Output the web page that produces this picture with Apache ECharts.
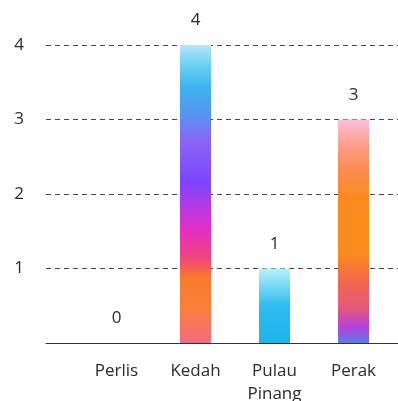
<!DOCTYPE html>
<html>
<head>
<meta charset="utf-8">
<script src="https://cdn.jsdelivr.net/npm/echarts@6/dist/echarts.min.js"></script>
<style>
  html, body { margin: 0; padding: 0; background: #fff; }
  #chart { width: 398px; height: 401px; }
</style>
</head>
<body>
<div id="chart"></div>
<script>
const states = ['Perlis', 'Kedah', 'Pulau\nPinang', 'Perak']
const counts = [0, 4, 1, 3]
const yTicks = [0, 1, 2, 3, 4]

// watercolor-ish vertical gradients, one per bar
const barStops = [
  [['0', '#f06070'], ['1', '#f06070']],
  [
    [0, '#b8e4fa'], [0.06, '#72d4f2'], [0.14, '#3cb4ee'], [0.24, '#5a92f2'],
    [0.32, '#8a66f6'], [0.46, '#7d44fb'], [0.54, '#b43ae6'], [0.62, '#e22ec4'],
    [0.72, '#f0487a'], [0.78, '#fb7a2c'], [0.88, '#fb7f3a'], [1, '#f56a80']
  ],
  [[0, '#b6f4fb'], [0.25, '#74d6f4'], [0.5, '#30bcee'], [1, '#1cb4ec']],
  [
    [0, '#fbc0dc'], [0.1, '#fba292'], [0.22, '#fa8c52'], [0.35, '#fb8a1e'],
    [0.6, '#fb8a1c'], [0.72, '#f4684c'], [0.84, '#e45a78'], [0.93, '#b640dc'], [1, '#5c7ce6']
  ]
]

const chart = echarts.init(document.getElementById('chart'))

const option = {
  animation: false,
  textStyle: { fontFamily: '"Open Sans", Lato, sans-serif' },
  grid: [
    { left: 46, right: 0, top: 45, bottom: 58, outerBoundsMode: 'none', containLabel: false },
    { left: 77, right: 5, top: 45, bottom: 58, outerBoundsMode: 'none', containLabel: false }
  ],
  xAxis: [
    {
      type: 'value', gridIndex: 0, min: 0, max: 1,
      axisLine: { show: true, onZero: false, lineStyle: { color: '#333', width: 1 } },
      axisTick: { show: false }, axisLabel: { show: false }, splitLine: { show: false }
    },
    {
      type: 'category', gridIndex: 1, data: states,
      axisLine: { show: false }, axisTick: { show: false },
      axisLabel: { color: '#2b2b2b', fontSize: 17, margin: 17, lineHeight: 23, interval: 0 }
    }
  ],
  yAxis: [
    {
      type: 'value', gridIndex: 0, min: yTicks[0], max: yTicks[yTicks.length - 1], interval: 1,
      axisLine: { show: false }, axisTick: { show: false },
      axisLabel: {
        color: '#2b2b2b', fontSize: 17, margin: 22,
        formatter: v => (v === 0 ? '' : String(v))
      },
      splitLine: {
        show: true,
        lineStyle: { color: '#444', type: [5, 4], width: 1 }
      }
    },
    {
      type: 'value', gridIndex: 1, min: 0, max: 4, interval: 1, show: false
    }
  ],
  series: [
    {
      type: 'bar',
      xAxisIndex: 1,
      yAxisIndex: 1,
      barWidth: 31,
      data: counts.map((v, i) => ({
        value: v,
        itemStyle: {
          color: new echarts.graphic.LinearGradient(0, 0, 0, 1,
            barStops[i].map(s => ({ offset: Number(s[0]), color: s[1] })))
        }
      })),
      label: {
        show: true, position: 'top', distance: 16,
        color: '#2b2b2b', fontSize: 17
      }
    }
  ]
}

chart.setOption(option)
</script>
</body>
</html>
